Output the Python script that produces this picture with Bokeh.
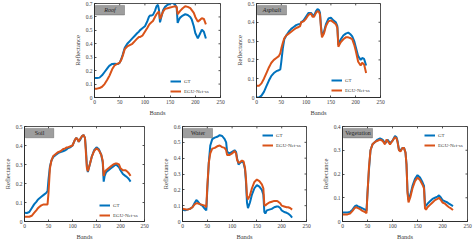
from bokeh.plotting import figure
from bokeh.layouts import column, row, Spacer
from bokeh.models import (FixedTicker, NumeralTickFormatter, LinearAxis, Legend, LegendItem,
                          BoxAnnotation, Label, Range1d)
from bokeh.embed import file_html
from bokeh.resources import INLINE

bands = [0, 5, 10, 15, 20, 25, 28, 30, 35, 40, 45, 48, 50, 53, 56, 60, 65, 70, 75, 80,
         85, 88, 90, 95, 100, 105, 108, 110, 113, 116, 120, 123, 126, 128, 130, 132, 136, 140, 145, 150,
         155, 160, 163, 165, 167, 170, 175, 180, 185, 190, 193, 197, 200, 205, 210, 213, 217, 221]

roof_gt = [0.145, 0.145, 0.148, 0.165, 0.19, 0.215, 0.23, 0.238, 0.25, 0.252, 0.25, 0.252, 0.26, 0.285, 0.32, 0.37, 0.40, 0.42, 0.44, 0.46,
           0.48, 0.49, 0.50, 0.515, 0.53, 0.57, 0.60, 0.61, 0.61, 0.615, 0.645, 0.68, 0.69, 0.65, 0.56, 0.59, 0.65, 0.675, 0.69, 0.70,
           0.705, 0.69, 0.67, 0.555, 0.575, 0.595, 0.61, 0.62, 0.615, 0.60, 0.58, 0.53, 0.48, 0.44, 0.48, 0.505, 0.49, 0.44]
roof_est = [0.065, 0.066, 0.07, 0.08, 0.10, 0.13, 0.15, 0.165, 0.21, 0.24, 0.25, 0.255, 0.26, 0.28, 0.31, 0.36, 0.38, 0.39, 0.40, 0.42,
            0.44, 0.45, 0.45, 0.46, 0.49, 0.52, 0.54, 0.55, 0.56, 0.57, 0.60, 0.62, 0.635, 0.64, 0.585, 0.60, 0.64, 0.66, 0.665, 0.67,
            0.675, 0.68, 0.675, 0.62, 0.63, 0.645, 0.665, 0.68, 0.675, 0.665, 0.65, 0.63, 0.60, 0.565, 0.58, 0.59, 0.585, 0.545]

asphalt_gt = [0.0, 0.0, 0.01, 0.03, 0.06, 0.09, 0.105, 0.115, 0.13, 0.14, 0.145, 0.15, 0.19, 0.26, 0.31, 0.33, 0.35, 0.365, 0.375, 0.385,
              0.39, 0.39, 0.40, 0.41, 0.43, 0.45, 0.45, 0.45, 0.44, 0.435, 0.46, 0.47, 0.465, 0.45, 0.38, 0.33, 0.35, 0.39, 0.42, 0.425,
              0.41, 0.40, 0.38, 0.28, 0.29, 0.31, 0.33, 0.34, 0.345, 0.335, 0.325, 0.30, 0.27, 0.22, 0.20, 0.21, 0.205, 0.17]
asphalt_est = [0.062, 0.062, 0.075, 0.10, 0.13, 0.16, 0.175, 0.185, 0.20, 0.21, 0.22, 0.235, 0.26, 0.29, 0.315, 0.33, 0.34, 0.35, 0.36, 0.37,
               0.375, 0.38, 0.40, 0.405, 0.42, 0.44, 0.445, 0.445, 0.43, 0.43, 0.45, 0.46, 0.455, 0.44, 0.37, 0.32, 0.34, 0.38, 0.405, 0.41,
               0.40, 0.39, 0.37, 0.27, 0.28, 0.295, 0.31, 0.32, 0.32, 0.315, 0.31, 0.28, 0.25, 0.19, 0.17, 0.185, 0.175, 0.13]

soil_gt = [0.046, 0.045, 0.05, 0.07, 0.09, 0.105, 0.115, 0.12, 0.13, 0.14, 0.15, 0.16, 0.22, 0.29, 0.32, 0.34, 0.35, 0.36, 0.365, 0.37,
           0.375, 0.38, 0.385, 0.39, 0.40, 0.43, 0.44, 0.435, 0.42, 0.43, 0.45, 0.455, 0.44, 0.38, 0.29, 0.26, 0.30, 0.34, 0.375, 0.39,
           0.38, 0.35, 0.31, 0.21, 0.24, 0.26, 0.27, 0.28, 0.29, 0.30, 0.295, 0.285, 0.27, 0.25, 0.24, 0.235, 0.225, 0.21]
soil_est = [0.025, 0.025, 0.025, 0.03, 0.045, 0.06, 0.07, 0.075, 0.085, 0.09, 0.09, 0.09, 0.15, 0.28, 0.32, 0.345, 0.355, 0.365, 0.37, 0.38,
            0.385, 0.39, 0.39, 0.395, 0.40, 0.43, 0.44, 0.435, 0.42, 0.435, 0.45, 0.455, 0.44, 0.36, 0.28, 0.265, 0.30, 0.34, 0.37, 0.385,
            0.375, 0.35, 0.32, 0.24, 0.26, 0.27, 0.28, 0.29, 0.30, 0.305, 0.305, 0.30, 0.28, 0.27, 0.27, 0.265, 0.255, 0.24]

water_gt = [0.076, 0.07, 0.075, 0.08, 0.09, 0.12, 0.135, 0.13, 0.11, 0.10, 0.08, 0.07, 0.20, 0.37, 0.48, 0.52, 0.53, 0.535, 0.545, 0.54,
            0.52, 0.50, 0.44, 0.43, 0.44, 0.45, 0.44, 0.40, 0.36, 0.37, 0.38, 0.37, 0.33, 0.25, 0.12, 0.085, 0.12, 0.17, 0.21, 0.23,
            0.22, 0.20, 0.17, 0.06, 0.05, 0.07, 0.075, 0.08, 0.09, 0.095, 0.095, 0.085, 0.07, 0.06, 0.055, 0.05, 0.04, 0.025]
water_est = [0.08, 0.078, 0.075, 0.08, 0.09, 0.11, 0.115, 0.115, 0.11, 0.105, 0.10, 0.09, 0.22, 0.37, 0.43, 0.46, 0.465, 0.475, 0.48, 0.47,
             0.465, 0.45, 0.42, 0.42, 0.43, 0.445, 0.43, 0.39, 0.37, 0.375, 0.385, 0.38, 0.34, 0.27, 0.16, 0.14, 0.165, 0.21, 0.25, 0.265,
             0.255, 0.235, 0.21, 0.105, 0.10, 0.11, 0.12, 0.125, 0.13, 0.13, 0.125, 0.115, 0.10, 0.095, 0.09, 0.09, 0.085, 0.075]

veg_gt = [0.038, 0.038, 0.038, 0.04, 0.05, 0.065, 0.068, 0.065, 0.06, 0.055, 0.05, 0.045, 0.12, 0.22, 0.30, 0.325, 0.335, 0.345, 0.35, 0.345,
          0.33, 0.335, 0.345, 0.33, 0.34, 0.36, 0.355, 0.34, 0.30, 0.30, 0.31, 0.31, 0.29, 0.24, 0.13, 0.09, 0.115, 0.15, 0.18, 0.195,
          0.185, 0.165, 0.15, 0.07, 0.065, 0.075, 0.085, 0.095, 0.10, 0.105, 0.11, 0.10, 0.09, 0.085, 0.08, 0.075, 0.07, 0.065]
veg_est = [0.03, 0.03, 0.03, 0.033, 0.045, 0.058, 0.06, 0.057, 0.052, 0.045, 0.04, 0.035, 0.12, 0.23, 0.30, 0.325, 0.335, 0.34, 0.345, 0.34,
           0.325, 0.345, 0.34, 0.325, 0.34, 0.355, 0.35, 0.335, 0.30, 0.295, 0.31, 0.31, 0.29, 0.24, 0.12, 0.08, 0.105, 0.14, 0.17, 0.185,
           0.175, 0.155, 0.14, 0.055, 0.05, 0.06, 0.07, 0.08, 0.09, 0.095, 0.10, 0.09, 0.08, 0.075, 0.065, 0.06, 0.055, 0.048]

x_ticks = [0, 50, 100, 150, 200, 250]
roof_yticks = [0, 0.1, 0.2, 0.3, 0.4, 0.5, 0.6, 0.7]
asphalt_yticks = [0, 0.1, 0.2, 0.3, 0.4, 0.5]
soil_yticks = [0, 0.1, 0.2, 0.3, 0.4, 0.5]
water_yticks = [0, 0.1, 0.2, 0.3, 0.4, 0.5, 0.6]
veg_yticks = [0, 0.1, 0.2, 0.3, 0.4]
series_names = ["GT", "EGU-Net-ss"]

FONT = "Liberation Serif"
BLUE = "#0072BD"
ORANGE = "#D95319"
AX = "#262626"
TXT = "#404040"
XMAX = 250


def make_panel(title, italic, gt, est, yticks, size, borders, legend_loc):
    w, h = size
    bl, br, bt, bb = borders
    ymax = yticks[-1]
    p = figure(width=w, height=h, min_border_left=bl, min_border_right=br,
               min_border_top=bt, min_border_bottom=bb,
               x_range=Range1d(0, XMAX), y_range=Range1d(0, ymax),
               output_backend="svg", toolbar_location=None, x_axis_location=None,
               y_axis_location=None)
    p.grid.visible = False
    p.outline_line_color = AX
    p.outline_line_width = 0.8
    p.background_fill_color = "white"
    p.border_fill_color = "white"

    xa = LinearAxis(ticker=FixedTicker(ticks=x_ticks), axis_label="Bands")
    ya = LinearAxis(ticker=FixedTicker(ticks=yticks), axis_label="Reflectance",
                    formatter=NumeralTickFormatter(format="0.[0]"))
    for a in (xa, ya):
        a.major_tick_in = 2
        a.major_tick_out = 0
        a.minor_tick_line_color = None
        a.axis_line_color = AX
        a.axis_line_width = 0.8
        a.major_tick_line_color = AX
        a.major_tick_line_width = 0.8
        a.major_label_text_font = FONT
        a.major_label_text_font_size = "5.5px"
        a.major_label_text_color = TXT
        a.major_label_standoff = 2
        a.axis_label_text_font = FONT
        a.axis_label_text_font_size = "6.5px"
        a.axis_label_text_font_style = "normal"
        a.axis_label_text_color = TXT
        a.axis_label_standoff = 2
    p.add_layout(xa, "below")
    p.add_layout(ya, "left")

    fw = w - bl - br
    fh = h - bt - bb
    # mirrored tick marks on the top and right edges of the box
    tx = 2.0 * XMAX / fw
    ty = 2.0 * ymax / fh
    p.segment(x0=[XMAX] * len(yticks), x1=[XMAX - tx] * len(yticks), y0=yticks, y1=yticks,
              line_color=AX, line_width=0.8)
    p.segment(x0=x_ticks, x1=x_ticks, y0=[ymax] * len(x_ticks), y1=[ymax - ty] * len(x_ticks),
              line_color=AX, line_width=0.8)

    r1 = p.line(bands, gt, line_color=BLUE, line_width=2)
    r2 = p.line(bands, est, line_color=ORANGE, line_width=2)

    x_l = XMAX * 1.0 / fw
    x_r = XMAX * 30.0 / fw
    y_t = ymax * (1 - 2.0 / fh)
    y_b = ymax * (1 - 12.0 / fh)
    p.add_layout(BoxAnnotation(left=x_l, right=x_r, bottom=y_b, top=y_t,
                               fill_color="#9e9e9e", fill_alpha=1.0,
                               line_color="#333333", line_width=1))
    p.add_layout(Label(x=(x_l + x_r) / 2, y=(y_t + y_b) / 2, text=title,
                       text_align="center", text_baseline="middle",
                       text_font=FONT, text_font_size="6px",
                       text_font_style="italic" if italic else "normal",
                       text_color="#222222"))

    leg = Legend(items=[LegendItem(label=series_names[0], renderers=[r1]),
                        LegendItem(label=series_names[1], renderers=[r2])],
                 location=legend_loc, padding=0, margin=0, border_line_color=None,
                 background_fill_alpha=0, label_text_font=FONT, label_text_font_size="5px",
                 label_text_color=TXT, glyph_width=11, glyph_height=8, label_height=8,
                 label_standoff=3, spacing=2)
    p.add_layout(leg)
    return p


p1 = make_panel("Roof", True, roof_gt, roof_est, roof_yticks, (166, 118), (32, 8, 3, 17), (76, 2))
p2 = make_panel("Asphalt", True, asphalt_gt, asphalt_est, asphalt_yticks, (162, 118), (28, 10, 3, 16), (75, 3))
p3 = make_panel("Soil", False, soil_gt, soil_est, soil_yticks, (155, 124), (21, 11, 8, 15), (75, 2))
p4 = make_panel("Water", False, water_gt, water_est, water_yticks, (160, 124), (27, 9, 7, 16), (80, 72))
p5 = make_panel("Vegetation", False, veg_gt, veg_est, veg_yticks, (158, 124), (27, 6, 8, 16), (82, 72))

layout = column(row(Spacer(width=62, height=118), p1, p2),
                row(p3, p4, p5))

open("out.html", "w").write(file_html(layout, INLINE))
